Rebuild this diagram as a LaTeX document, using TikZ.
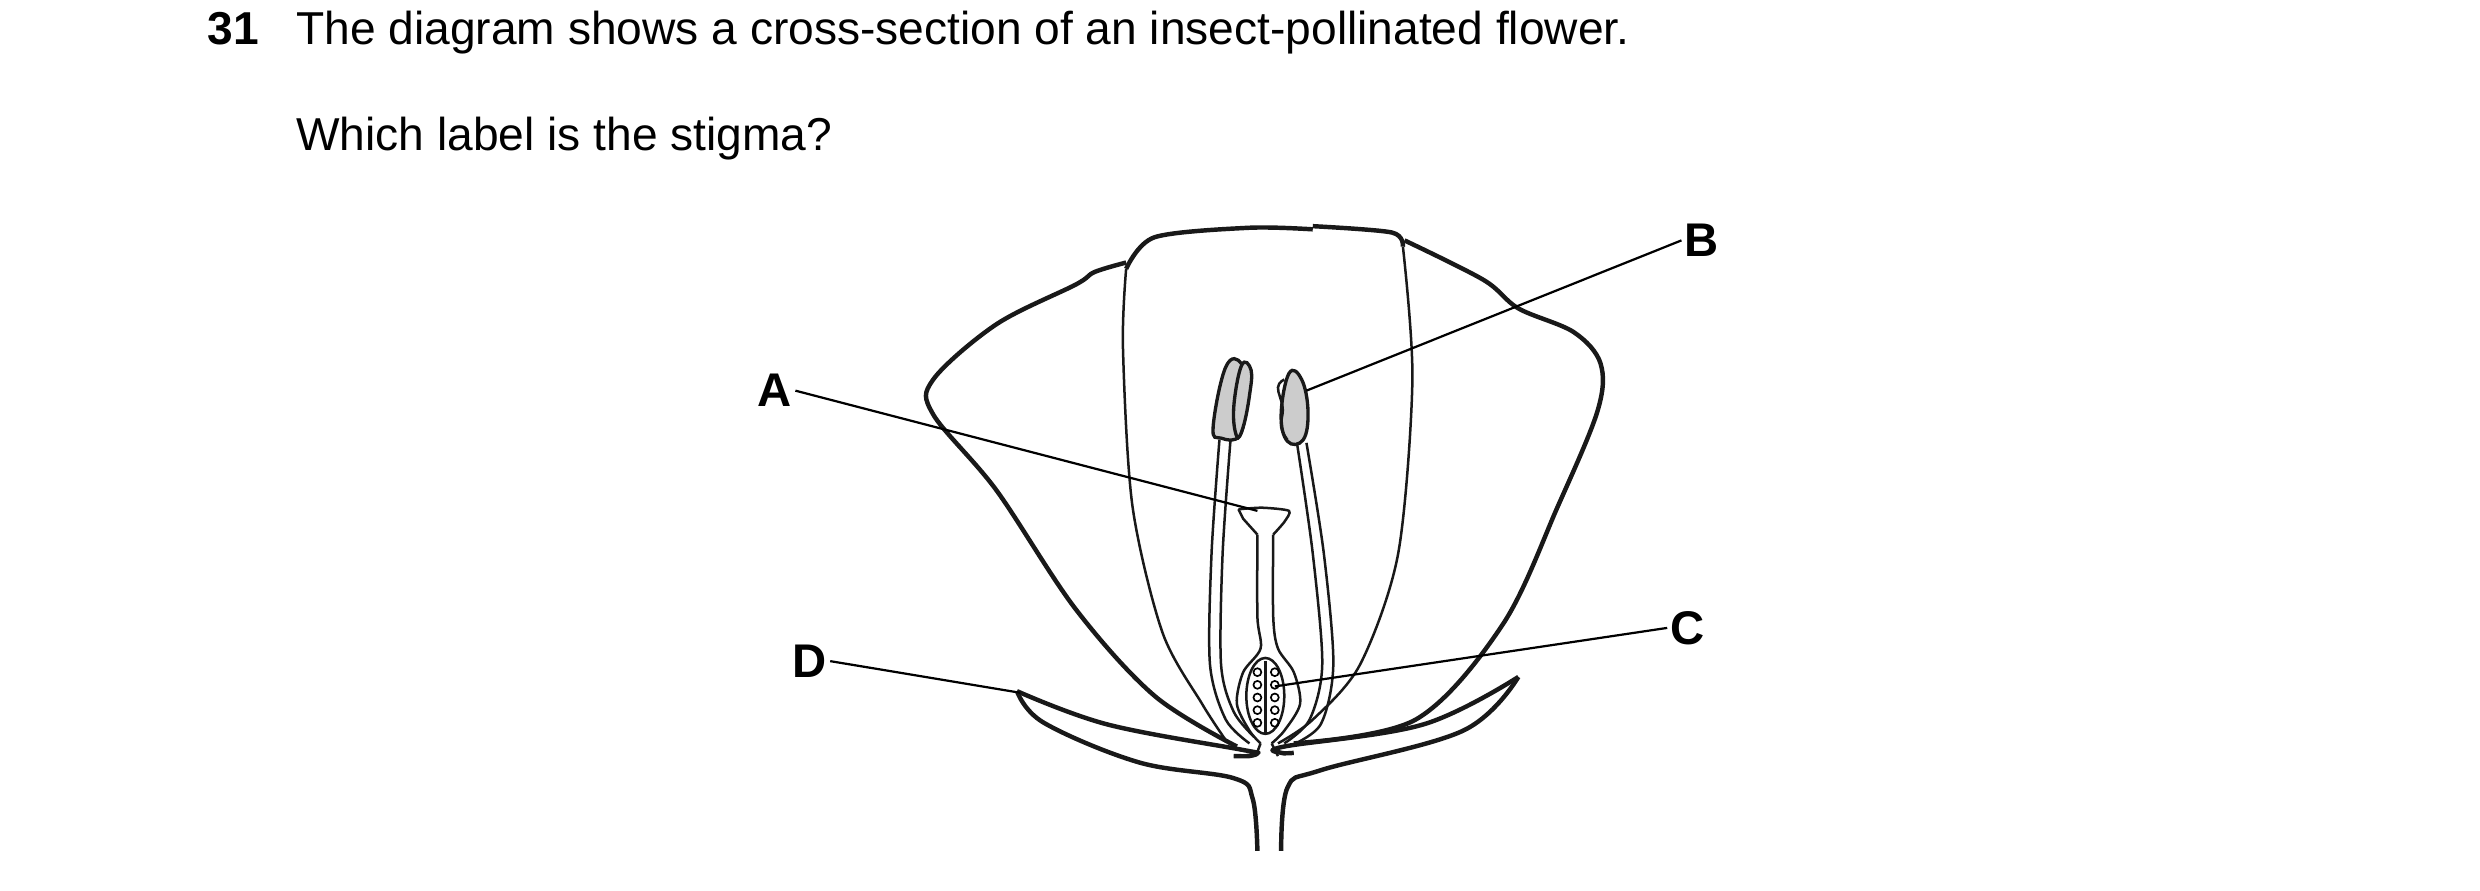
\documentclass[tikz,border=0pt]{standalone}
\usepackage{fontspec}
\setmainfont{Liberation Sans}
\usetikzlibrary{positioning}
\tikzset{
  outline/.style={draw=black!90, line width=1.6pt, line join=round},
  thin line/.style={draw=black!90, line width=0.9pt},
  leader/.style={draw=black, line width=0.8pt},
  letter/.style={font=\fontsize{17}{20}\selectfont\bfseries, inner sep=1pt},
  qtext/.style={font=\fontsize{16.6}{20}\selectfont, anchor=base west, inner sep=0pt},
  anther/.style={draw=black!90, line width=1.2pt, fill=black!20}
}
\begin{document}
\begin{tikzpicture}[x=0.02cm, y=-0.02cm]
\useasboundingbox (0,0) rectangle (1568,563);
% question
\node[qtext, font=\fontsize{16.6}{20}\selectfont\bfseries] (num) at (131,28) {31};
\node[qtext] (q1) at (187,28) {The diagram shows a cross-section of an insect-pollinated flower.};
\node[qtext] (q2) at (187,95) {Which label is the stigma?};
% sepals and stalk
\draw[outline] plot[smooth, tension=0.6] coordinates {(643,437) (700,458) (785,474) (795,476) (790,478) (780,478)};
\draw[outline] plot[smooth, tension=0.6] coordinates {(643,437) (660,457) (720,482) (780,492) (792,505) (795,538)};
\draw[outline] plot[smooth, tension=0.6] coordinates {(960,428) (900,458) (812,472) (810,476) (818,476)};
\draw[outline] plot[smooth, tension=0.6] coordinates {(960,428) (925,462) (835,487) (814,498) (810,538)};
% outer petals
\draw[outline] plot[smooth, tension=0.55] coordinates {(782,472) (730,440) (680,385) (630,310) (590,262) (590,240) (630,205) (680,180) (692,172) (712,166)};
\draw[outline] plot[smooth, tension=0.55] coordinates {(818,470) (895,455) (950,395) (985,320) (1010,260) (1012,230) (995,210) (960,195) (938,177) (888,152)};
% middle petal
\draw[outline] plot[smooth, tension=0.5] coordinates {(712,170) (730,150) (790,144) (830,145)};
\draw[outline] plot[smooth, tension=0.5] coordinates {(830,143) (880,147) (887,156)};
\draw[thin line] plot[smooth, tension=0.5] coordinates {(712,170) (710,220) (716,320) (735,400) (760,445) (775,468)};
\draw[thin line] plot[smooth, tension=0.5] coordinates {(887,156) (893,240) (884,350) (860,420) (830,455) (808,470)};
% left stamen
\draw[thin line] plot[smooth, tension=0.5] coordinates {(771,278) (766,350) (765,420) (775,455) (790,470)};
\draw[thin line] plot[smooth, tension=0.5] coordinates {(778,278) (773,350) (772,420) (780,450) (793,466)};
\draw[anther] plot[smooth cycle, tension=0.7] coordinates {(775,232) (785,230) (788,250) (784,275) (772,277) (767,270)};
\draw[anther] plot[smooth cycle, tension=0.7] coordinates {(785,231) (791,234) (790,250) (786,270) (782,276) (780,258)};
% right stamen
\draw[thin line] plot[smooth, tension=0.5] coordinates {(820,280) (830,350) (836,420) (828,455) (812,470)};
\draw[thin line] plot[smooth, tension=0.5] coordinates {(826,280) (837,350) (843,420) (835,458) (815,472)};
\draw[anther] plot[smooth cycle, tension=0.7] coordinates {(815,236) (823,240) (827,260) (824,278) (814,279) (810,262)};
\draw[thin line] plot[smooth, tension=0.7] coordinates {(812,240) (808,245) (811,258) (810,270) (814,278)};
% pistil
\draw[thin line] plot[smooth, tension=0.4] coordinates {(783,322) (798,321) (815,323) (812,330) (805,338)};
\draw[thin line] (783,322) -- (786,328) -- (795,338);
\draw[thin line] plot[smooth, tension=0.5] coordinates {(795,338) (795,390) (797,410) (786,425) (782,445) (790,462) (797,470)};
\draw[thin line] plot[smooth, tension=0.5] coordinates {(805,338) (805,390) (808,410) (818,425) (822,445) (812,462) (804,470)};
\draw[thin line] (797,470) -- (794,478);
\draw[thin line] (804,470) -- (808,478);
\draw[thin line] (800,440) ellipse [x radius=12, y radius=24];
\draw[thin line] (800,418) -- (800,464);
\foreach \oy in {425,433,441,449,457}{
  \draw[line width=0.6pt] (795,\oy) circle (2.5);
  \draw[line width=0.6pt] (806,\oy) circle (2.5);
}
% labels
\node[letter] (A) at (490,247) {A};
\node[letter] (B) at (1076,152) {B};
\node[letter] (C) at (1067,397) {C};
\node[letter] (D) at (512,418) {D};
\coordinate (stigma) at (795,323);
\coordinate (anthr) at (826,247);
\coordinate (ovary) at (806,434);
\coordinate (sepal) at (645,438);
\draw[leader] (A.east) -- (stigma);
\draw[leader] (B.west) -- (anthr);
\draw[leader] (C.west) -- (ovary);
\draw[leader] (D.east) -- (sepal);
\end{tikzpicture}
\end{document}
